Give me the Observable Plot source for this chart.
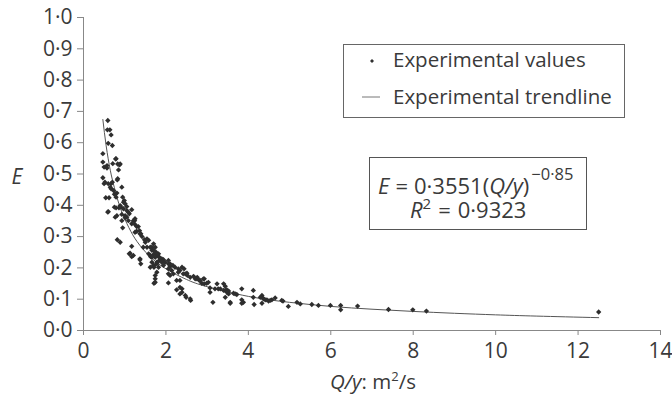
<!DOCTYPE html>
<html>
<head>
<meta charset="utf-8">
<script src="https://cdn.jsdelivr.net/npm/d3@7"></script>
<script src="https://cdn.jsdelivr.net/npm/@observablehq/plot@0.6"></script>
<style>
  html, body { margin: 0; padding: 0; background: #fff; }
  #chart svg { display: block; }
</style>
</head>
<body>
<div id="chart"></div>
<script>
// Experimental values: Q/y (m²/s) and E
const qy = [
  0.59,0.58,0.64,0.67,0.60,0.70,0.47,0.79,0.47,0.57,0.71,0.87,0.85,0.50,0.57,0.47,0.82,0.50,0.60,0.67,
  0.70,0.67,0.73,0.93,0.75,0.79,0.54,0.62,0.95,0.99,0.75,0.79,0.60,0.91,1.05,1.17,0.77,0.93,1.01,1.05,
  1.11,0.95,1.21,1.25,1.29,1.33,1.36,1.29,1.39,1.42,0.82,0.89,1.54,1.58,1.50,1.45,1.54,1.62,1.66,1.17,
  1.11,1.17,1.37,1.39,1.58,1.63,1.70,1.76,1.79,1.84,1.66,1.71,1.78,1.84,1.90,1.94,1.62,1.71,1.78,1.74,
  1.71,2.06,2.10,2.17,2.06,2.14,2.22,2.30,2.34,2.39,2.44,2.06,2.10,2.18,2.06,2.26,2.34,2.26,2.39,2.34,
  2.49,2.60,2.47,2.52,2.59,2.67,2.71,2.76,2.81,2.87,2.93,2.93,2.99,3.14,3.07,3.19,3.27,3.44,3.48,3.52,
  3.44,3.56,3.64,3.72,3.84,3.84,3.88,4.12,4.12,4.14,4.33,4.35,4.41,4.49,4.57,4.65,
  0.78,0.83,0.89,0.83,0.52,0.65,0.81,0.97,0.86,1.09,1.01,0.93,1.25,0.59,0.89,1.01,0.97,1.05,0.81,1.09,
  1.17,1.24,1.25,1.37,1.48,1.70,1.74,1.66,1.13,1.21,1.37,1.62,1.74,1.82,1.86,1.90,1.78,1.70,1.82,1.94,
  1.74,1.70,1.78,1.66,1.98,2.06,2.10,1.74,2.30,2.42,2.51,2.75,2.83,2.91,3.03,2.34,2.39,2.47,2.59,3.07,
  3.32,3.44,3.52,3.24,3.40,
  3.40,3.48,3.56,3.68,3.84,4.53,4.84,4.97,5.18,5.26,4.29,4.37,4.45,4.33,4.81,5.54,5.70,5.99,6.24,6.24,
  6.65,7.40,7.99,8.32,12.50
];
const eVals = [
  0.671,0.641,0.641,0.625,0.598,0.591,0.565,0.549,0.538,0.527,0.533,0.529,0.513,0.522,0.519,0.488,0.481,0.469,0.469,0.469,
  0.474,0.453,0.447,0.458,0.435,0.426,0.424,0.424,0.426,0.415,0.394,0.392,0.380,0.394,0.396,0.386,0.362,0.371,0.367,0.362,
  0.373,0.328,0.351,0.339,0.332,0.332,0.319,0.317,0.309,0.300,0.290,0.282,0.293,0.288,0.282,0.266,0.266,0.266,0.266,0.269,
  0.245,0.236,0.229,0.213,0.245,0.236,0.243,0.250,0.240,0.234,0.218,0.208,0.213,0.224,0.229,0.226,0.202,0.202,0.186,0.176,
  0.151,0.213,0.204,0.208,0.197,0.192,0.202,0.197,0.192,0.202,0.197,0.181,0.176,0.181,0.152,0.160,0.160,0.130,0.133,0.117,
  0.106,0.096,0.181,0.176,0.170,0.173,0.165,0.170,0.160,0.151,0.149,0.165,0.151,0.090,0.136,0.133,0.133,0.141,0.130,0.126,
  0.106,0.090,0.119,0.115,0.133,0.098,0.090,0.128,0.106,0.083,0.112,0.104,0.098,0.094,0.098,0.104,
  0.548,0.532,0.532,0.485,0.474,0.458,0.439,0.410,0.392,0.378,0.360,0.351,0.357,0.378,0.399,0.405,0.389,0.383,0.367,0.351,
  0.341,0.351,0.314,0.309,0.290,0.277,0.266,0.256,0.247,0.240,0.226,0.240,0.234,0.245,0.229,0.218,0.218,0.208,0.202,0.208,
  0.165,0.256,0.245,0.234,0.218,0.224,0.213,0.154,0.186,0.181,0.183,0.165,0.160,0.165,0.154,0.138,0.122,0.112,0.101,0.122,
  0.133,0.128,0.117,0.149,0.149,
  0.128,0.122,0.087,0.117,0.087,0.096,0.094,0.077,0.090,0.085,0.106,0.101,0.098,0.087,0.096,0.083,0.080,0.080,0.080,0.066,
  0.078,0.067,0.066,0.062,0.059
];
// Experimental trendline
const trendQy = [0.47,0.55,0.65,0.75,0.9,1.1,1.3,1.6,2,2.5,3,4,5,6,7,8,9,10,11,12.5];
const trendE  = [0.674,0.590,0.512,0.456,0.389,0.329,0.284,0.238,0.197,0.163,0.140,0.109,0.090,0.077,0.068,0.061,0.055,0.050,0.046,0.041];
// Tick labels
const xTicks = [0,2,4,6,8,10,12,14];
const yTicks = [0,0.1,0.2,0.3,0.4,0.5,0.6,0.7,0.8,0.9,1.0];
const yTickLabels = ["0·0","0·1","0·2","0·3","0·4","0·5","0·6","0·7","0·8","0·9","1·0"];

const points = qy.map((x, i) => ({x, e: eVals[i]}));
const trend = trendQy.map((x, i) => ({x, e: trendE[i]}));

const FONT = "'Open Sans', 'Noto Sans', sans-serif";
const TXT = "#3a3a3a";

const chart = Plot.plot({
  width: 672,
  height: 394,
  marginLeft: 83,
  marginRight: 12,
  marginTop: 17,
  marginBottom: 64,
  style: {fontFamily: FONT, fontSize: "21px", color: TXT, background: "#fff", overflow: "visible"},
  x: {domain: [0, 14]},
  y: {domain: [0, 1]},
  marks: [
    Plot.axisX({ticks: xTicks, tickSize: 5, tickPadding: 8, stroke: "#888", fill: TXT, fontSize: 21, label: null}),
    Plot.axisY({ticks: yTicks, tickFormat: (d) => yTickLabels[yTicks.indexOf(d)], tickSize: 6, tickPadding: 5, stroke: "#888", fill: TXT, fontSize: 21, label: null}),
    Plot.ruleX([0], {stroke: "#888"}),
    Plot.ruleY([0], {stroke: "#888"}),
    Plot.line(trend, {x: "x", y: "e", stroke: "#555", strokeWidth: 1, curve: "natural"}),
    Plot.dot(points, {x: "x", y: "e", symbol: "diamond2", r: 2.4, fill: "#2e2e2e", stroke: "none"})
  ]
});
document.getElementById("chart").appendChild(chart);

const svg = d3.select(chart);
// Axis titles
svg.append("text").attr("x", 17).attr("y", 184).attr("text-anchor", "middle")
  .attr("font-family", FONT).attr("font-size", 21).attr("fill", TXT)
  .attr("font-style", "italic").text("E");

const xl = svg.append("text").attr("x", 373).attr("y", 389).attr("text-anchor", "middle")
  .attr("font-family", FONT).attr("font-size", 20.5).attr("fill", TXT);
xl.append("tspan").attr("font-style", "italic").text("Q/y");
xl.append("tspan").text(": m");
xl.append("tspan").attr("font-size", 13).attr("dy", -8).text("2");
xl.append("tspan").attr("dy", 8).text("/s");

// Legend box
const lg = svg.append("g").attr("font-family", FONT).attr("font-size", 20.5).attr("fill", TXT).attr("text-anchor", "start");
lg.append("rect").attr("x", 343.5).attr("y", 44.5).attr("width", 281).attr("height", 73)
  .attr("fill", "#fff").attr("stroke", "#666").attr("stroke-width", 1);
lg.append("path").attr("d", d3.symbol(d3.symbolDiamond2, 10)()).attr("transform", "translate(372,61)").attr("fill", "#303030");
lg.append("text").attr("x", 393).attr("y", 67).attr("text-anchor", "start").text("Experimental values");
lg.append("line").attr("x1", 362).attr("x2", 380).attr("y1", 97).attr("y2", 97).attr("stroke", "#777").attr("stroke-width", 1);
lg.append("text").attr("x", 393).attr("y", 104).attr("text-anchor", "start").text("Experimental trendline");

// Equation box
const eq = svg.append("g").attr("font-family", FONT).attr("font-size", 22).attr("fill", TXT).attr("text-anchor", "start");
eq.append("rect").attr("x", 369.5).attr("y", 157.5).attr("width", 217).attr("height", 72)
  .attr("fill", "#fff").attr("stroke", "#555").attr("stroke-width", 1);
const l1 = eq.append("text").attr("x", 378).attr("y", 194).attr("text-anchor", "start");
l1.append("tspan").attr("font-style", "italic").text("E");
l1.append("tspan").attr("dx", 6).text("=");
l1.append("tspan").attr("dx", 6).text("0·3551(");
l1.append("tspan").attr("font-style", "italic").text("Q/y");
l1.append("tspan").text(")");
l1.append("tspan").attr("font-size", 16.5).attr("dx", 2).attr("dy", -14).text("−0·85");
const l2 = eq.append("text").attr("x", 410).attr("y", 218).attr("text-anchor", "start");
l2.append("tspan").attr("font-style", "italic").text("R");
l2.append("tspan").attr("font-size", 15).attr("dy", -9).text("2");
l2.append("tspan").attr("dx", 7).attr("dy", 9).text("=");
l2.append("tspan").attr("dx", 7).text("0·9323");
</script>
</body>
</html>
